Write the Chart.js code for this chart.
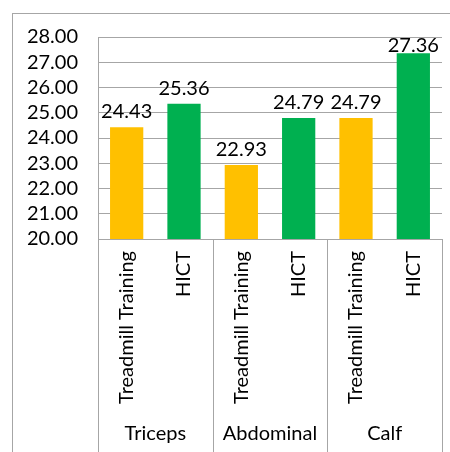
<!DOCTYPE html>
<html>
<head>
<meta charset="utf-8">
<script src="https://cdn.jsdelivr.net/npm/chart.js@4.4.1/dist/chart.umd.min.js"></script>
<style>
  html, body { margin: 0; padding: 0; background: #fff; }
  #wrap { width: 450px; height: 452px; position: relative; }
</style>
</head>
<body>
<div id="wrap"><canvas id="chart"></canvas></div>
<script>
const groups = ['Triceps', 'Abdominal', 'Calf'];
const seriesNames = ['Treadmill Training', 'HICT'];
const treadmillValues = [24.43, 22.93, 24.79];
const hictValues = [25.36, 24.79, 27.36];
const yMin = 20, yMax = 28, yStep = 1;

const colors = ['#FFC000', '#00B050'];
const fontFamily = 'Lato, "Open Sans", sans-serif';
const fontSize = 20;
const gridColor = '#a6a6a6';

// flatten into one category per bar
const labels = [];
const values = [];
const barColors = [];
groups.forEach((g, i) => {
    labels.push(seriesNames[0]); values.push(treadmillValues[i]); barColors.push(colors[0]);
    labels.push(seriesNames[1]); values.push(hictValues[i]); barColors.push(colors[1]);
});

const decorPlugin = {
    id: 'decor',
    beforeDraw(chart) {
        const ctx = chart.ctx;
        ctx.save();
        ctx.strokeStyle = gridColor;
        ctx.lineWidth = 1;
        ctx.strokeRect(12.5, 13.5, chart.width + 20, chart.height + 20);
        ctx.restore();
    },
    afterDraw(chart) {
        const ctx = chart.ctx;
        const x = chart.scales.x;
        const area = chart.chartArea;
        const per = seriesNames.length;
        ctx.save();
        ctx.strokeStyle = gridColor;
        ctx.lineWidth = 1;
        // group separators
        for (let g = 0; g <= groups.length; g++) {
            let px;
            if (g === 0) px = area.left;
            else if (g === groups.length) px = area.right;
            else px = (x.getPixelForValue(g * per - 1) + x.getPixelForValue(g * per)) / 2;
            px = Math.round(px) + 0.5;
            ctx.beginPath();
            ctx.moveTo(px, area.bottom);
            ctx.lineTo(px, chart.height);
            ctx.stroke();
        }
        // group labels
        ctx.fillStyle = '#000';
        ctx.font = fontSize + 'px ' + fontFamily;
        ctx.textAlign = 'center';
        ctx.textBaseline = 'middle';
        groups.forEach((g, i) => {
            const cx = (x.getPixelForValue(i * per) + x.getPixelForValue(i * per + per - 1)) / 2;
            ctx.fillText(g, cx, 434);
        });
        // value labels, kept inside the plot area like Excel does
        const meta = chart.getDatasetMeta(0);
        ctx.textBaseline = 'alphabetic';
        meta.data.forEach((bar, i) => {
            const y = Math.max(bar.y - 9, area.top + 15);
            ctx.fillText(values[i].toFixed(2), bar.x, y);
        });
        ctx.restore();
    }
};

new Chart(document.getElementById('chart'), {
    type: 'bar',
    data: {
        labels: labels,
        datasets: [{
            data: values,
            backgroundColor: barColors,
            borderWidth: 0,
            categoryPercentage: 1,
            barPercentage: 0.58
        }]
    },
    options: {
        responsive: true,
        maintainAspectRatio: false,
        animation: false,
        layout: { padding: { top: 37, left: 0, right: 8, bottom: 0 } },
        plugins: {
            legend: { display: false },
            tooltip: { enabled: false }
        },
        scales: {
            x: {
                grid: { display: false, drawTicks: false },
                border: { display: true, color: gridColor, width: 1 },
                ticks: {
                    color: '#000',
                    font: { family: fontFamily, size: fontSize },
                    minRotation: 90,
                    maxRotation: 90,
                    autoSkip: false,
                    padding: 12
                },
                afterFit(scale) { scale.height = 452 - 239; }
            },
            y: {
                min: yMin,
                max: yMax,
                grid: { color: gridColor, lineWidth: 1, drawTicks: false },
                border: { display: true, color: gridColor, width: 1 },
                ticks: {
                    stepSize: yStep,
                    autoSkip: false,
                    color: '#000',
                    font: { family: fontFamily, size: fontSize },
                    padding: 20,
                    callback: v => Number(v).toFixed(2)
                },
                afterFit(scale) { scale.width = 98; }
            }
        }
    },
    plugins: [decorPlugin]
});
</script>
</body>
</html>
